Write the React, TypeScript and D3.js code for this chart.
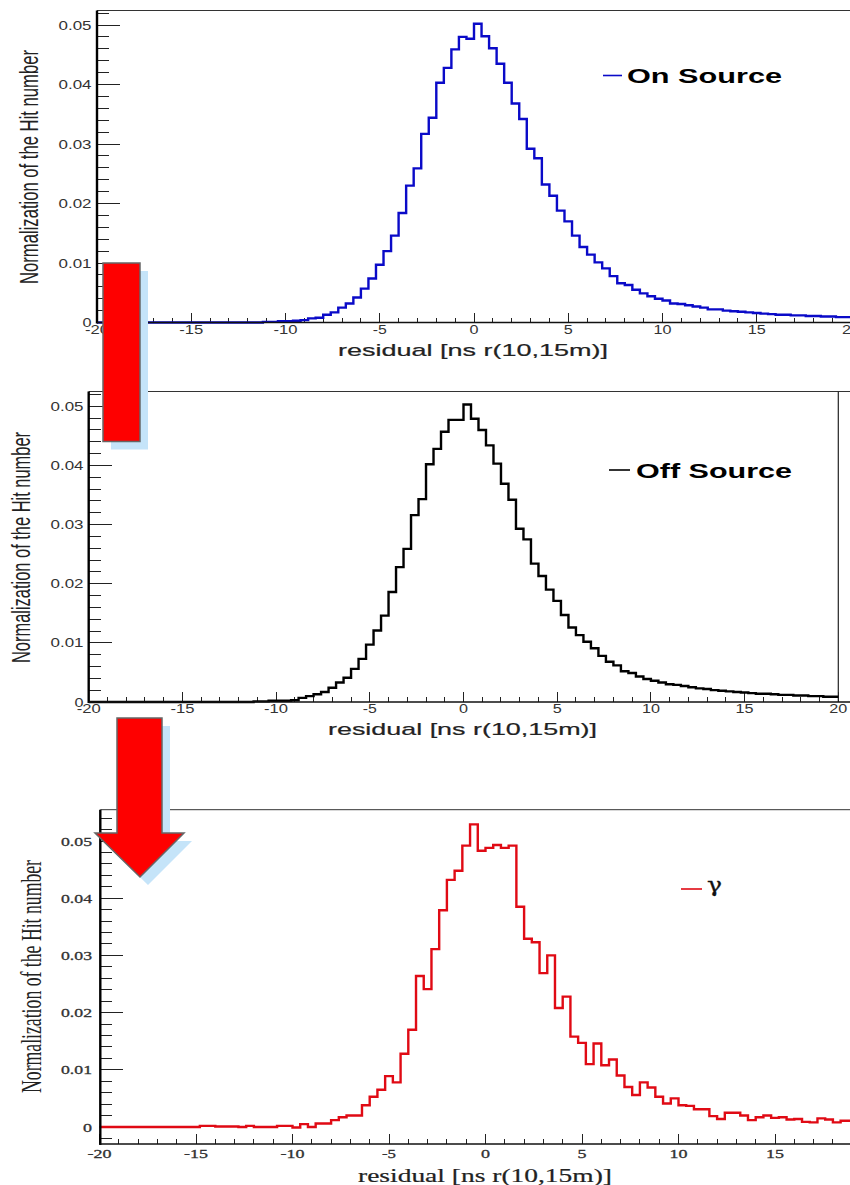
import React from "react";
import * as d3 from "d3";

const binEdges = d3.range(0, 100).map((i) => -20 + i * 0.4);
const binWidth = 0.4;

const onSource = [
  0, 0, 0, 0, 0, 0, 0, 0, 0, 0,
  0, 0, 0, 0, 0, 0, 0, 0, 0, 0,
  0, 0, 0.0001, 0.0001, 0.0002, 0.0002, 0.0003, 0.0004, 0.0007, 0.0008,
  0.0013, 0.0017, 0.0025, 0.0032, 0.0042, 0.0057, 0.0074, 0.0097, 0.012, 0.0146,
  0.0184, 0.023, 0.0259, 0.0317, 0.0344, 0.0403, 0.0428, 0.0459, 0.048, 0.0477,
  0.0502, 0.0481, 0.0461, 0.0435, 0.0403, 0.0368, 0.0342, 0.0292, 0.0276, 0.0232,
  0.0213, 0.0188, 0.017, 0.0146, 0.0127, 0.0114, 0.0101, 0.0091, 0.0078, 0.0066,
  0.0063, 0.0055, 0.0049, 0.0044, 0.004, 0.0037, 0.0032, 0.0031, 0.0029, 0.0027,
  0.0025, 0.0022, 0.0022, 0.002, 0.0019, 0.0018, 0.0017, 0.0016, 0.0015, 0.0014,
  0.0013, 0.0013, 0.0012, 0.0012, 0.0011, 0.0011, 0.001, 0.001, 0.0009, 0.0009,
];

const offSource = [
  0, 0, 0, 0, 0, 0, 0, 0, 0, 0,
  0, 0, 0, 0, 0, 0, 0, 0, 0, 0,
  0, 0, 0.0001, 0.0001, 0.0002, 0.0002, 0.0002, 0.0003, 0.0007, 0.001,
  0.0013, 0.0017, 0.0024, 0.0033, 0.0041, 0.0056, 0.0073, 0.0097, 0.0121, 0.0146,
  0.0186, 0.0228, 0.0259, 0.0316, 0.0343, 0.0402, 0.0428, 0.0457, 0.0477, 0.0477,
  0.0503, 0.0479, 0.046, 0.0434, 0.0403, 0.0369, 0.0342, 0.0293, 0.0275, 0.0234,
  0.0213, 0.019, 0.0171, 0.0147, 0.0126, 0.0113, 0.0102, 0.0091, 0.0078, 0.0068,
  0.0062, 0.0052, 0.0049, 0.0043, 0.0039, 0.0036, 0.0033, 0.003, 0.0029, 0.0027,
  0.0025, 0.0023, 0.0022, 0.002, 0.0019, 0.0018, 0.0017, 0.0016, 0.0015, 0.0014,
  0.0014, 0.0013, 0.0012, 0.0012, 0.0011, 0.0011, 0.001, 0.001, 0.0009, 0.0009,
];

const gammaRay = [
  0, 0, 0, 0, 0, 0, 0, 0, 0, 0,
  0, 0, 0, 0.0002, 0.0002, 0.0001, 0.0001, 0.0001, 0, 0.0002,
  0, 0, 0, 0.0002, 0.0002, -0.0001, 0.0005, 0, 0.0006, 0.0006,
  0.0012, 0.0017, 0.002, 0.002, 0.0038, 0.0053, 0.0065, 0.0089, 0.0078, 0.0128,
  0.017, 0.0264, 0.0241, 0.0311, 0.0379, 0.0432, 0.0448, 0.0492, 0.0529, 0.0483,
  0.0488, 0.0493, 0.0488, 0.0492, 0.0385, 0.0329, 0.0323, 0.0269, 0.03, 0.0208,
  0.0228, 0.0158, 0.0147, 0.011, 0.0146, 0.0108, 0.0118, 0.009, 0.007, 0.0056,
  0.0078, 0.0069, 0.0053, 0.0041, 0.005, 0.0038, 0.0037, 0.0031, 0.0031, 0.0019,
  0.0014, 0.0025, 0.0025, 0.002, 0.0012, 0.0017, 0.002, 0.0016, 0.0017, 0.0013,
  0.0014, 0.0009, 0.0008, 0.0015, 0.0013, 0.0008, 0.0011, 0.0011, 0.001, 0.0009,
];

const xMajorTicks = [-20, -15, -10, -5, 0, 5, 10, 15, 20];
const xMinorTicks = d3.range(-20, 21).filter((v) => v % 5 !== 0);
const yMajorTicks = [0, 0.01, 0.02, 0.03, 0.04, 0.05];
const yMinorTicks = d3.range(0, 28).map((i) => i * 0.002).filter((_, i) => i % 5 !== 0);
const xTitle = "residual [ns r(10,15m)]";
const yTitle = "Normalization of the Hit number";

const SANS = "'Liberation Sans', Arial, sans-serif";
const SERIF = "'Liberation Serif', 'Times New Roman', serif";

type PanelProps = {
  values: number[];
  color: string;
  left: number; right: number; top: number; bottom: number;
  x0: number; x20: number; y0: number; y05: number;
  font: string;
  showRight?: boolean;
  yLabelRight: number;
  yLabelWidth: number;
  yTitleX: number; yTitleTop: number; yTitleLen: number;
  xTitleLeft: number; xTitleBase: number; xTitleLen: number;
  xLabelBase: number;
  xTitleSize: number;
  yTitleSize: number;
  lowMinor?: boolean;
};

function Panel(p: PanelProps) {
  const x = d3.scaleLinear().domain([-20, 20]).range([p.x0, p.x20]);
  const y = d3.scaleLinear().domain([0, 0.05]).range([p.y0, p.y05]);
  const pts: [number, number][] = binEdges.map((e, i) => [e, p.values[i]]);
  pts.push([binEdges[99] + binWidth, p.values[99]]);
  const line = d3.line<[number, number]>()
    .x((d) => x(d[0]))
    .y((d) => y(d[1]))
    .curve(d3.curveStepAfter);
  const labelWidth = (v: number) => {
    const s = Math.abs(v) >= 10 ? 18 : 9;
    return v < 0 ? s + (Math.abs(v) >= 10 ? 6 : 5) : s;
  };
  const isSerif = p.font === SERIF;
  const tickProps = { stroke: "#222", strokeWidth: 1, shapeRendering: "crispEdges" as const };
  const minors = yMinorTicks.filter((v) => y(v) > p.top + 1);
  return (
    <g>
      <line x1={p.left} x2={850} y1={p.top} y2={p.top} stroke="#333" strokeWidth={1} />
      {p.showRight && <line x1={p.right} x2={p.right} y1={p.top} y2={p.bottom} stroke="#222" strokeWidth={1.2} />}
      {minors.map((v) => (
        <line key={v} x1={p.left} x2={p.left + 12} y1={y(v)} y2={y(v)} {...tickProps} />
      ))}
      {p.lowMinor && (
        <line x1={p.left} x2={p.left + 12} y1={y(-0.002)} y2={y(-0.002)} {...tickProps} />
      )}
      {yMajorTicks.map((v) => (
        <line key={v} x1={p.left} x2={p.left + 23} y1={y(v)} y2={y(v)} {...tickProps} />
      ))}
      {xMinorTicks.map((v) => (
        <line key={v} x1={x(v)} x2={x(v)} y1={p.bottom} y2={p.bottom - 5} {...tickProps} />
      ))}
      {xMajorTicks.map((v) => (
        <line key={v} x1={x(v)} x2={x(v)} y1={p.bottom} y2={p.bottom - 10} {...tickProps} />
      ))}
      <path d={line(pts) ?? ""} fill="none" stroke={p.color} strokeWidth={2.4} />
      <line x1={p.left} x2={p.left} y1={p.top} y2={p.bottom + 1} stroke="#000" strokeWidth={2.4} />
      <line x1={p.left} x2={850} y1={p.bottom} y2={p.bottom} stroke="#111" strokeWidth={1.6} />
      {yMajorTicks.map((v) => {
        const w = v === 0 ? 9 : p.yLabelWidth;
        return (
          <text key={v} x={p.yLabelRight - w} y={y(v) + 4.5} fontFamily={p.font} fontSize={12.5}
            fill="#333" stroke={isSerif ? "#333" : "none"} strokeWidth={0.3}
            textLength={w} lengthAdjust="spacingAndGlyphs">
            {v === 0 ? "0" : d3.format(".2f")(v)}
          </text>
        );
      })}
      {xMajorTicks.map((v) => {
        const w = labelWidth(v);
        return (
          <text key={v} x={x(v) - w / 2} y={p.xLabelBase} fontFamily={p.font} fontSize={12}
            fill="#333" stroke={isSerif ? "#333" : "none"} strokeWidth={0.3}
            textLength={w} lengthAdjust="spacingAndGlyphs">
            {String(v)}
          </text>
        );
      })}
      <text x={p.xTitleLeft} y={p.xTitleBase} fontFamily={p.font} fontSize={p.xTitleSize} fill="#222"
        textLength={p.xTitleLen} lengthAdjust="spacingAndGlyphs" stroke="#222" strokeWidth={0.2}>
        {xTitle}
      </text>
      <text transform={`translate(${p.yTitleX},${p.yTitleTop + p.yTitleLen}) rotate(-90)`} fontFamily={p.font}
        fontSize={p.yTitleSize} fill="#222" textLength={p.yTitleLen} lengthAdjust="spacingAndGlyphs">
        {yTitle}
      </text>
    </g>
  );
}

function Legend({ x1, x2, y, color, label, labelX, labelLen, base }: {
  x1: number; x2: number; y: number; color: string; label: string; labelX: number; labelLen: number; base: number;
}) {
  return (
    <g>
      <line x1={x1} x2={x2} y1={y} y2={y} stroke={color} strokeWidth={1.6} />
      <text x={labelX} y={base} fontFamily={SANS} fontWeight={700} fontSize={20} fill="#000"
        textLength={labelLen} lengthAdjust="spacingAndGlyphs">
        {label}
      </text>
    </g>
  );
}

function polygon(points: [number, number][]) {
  return d3.line<[number, number]>()(points)! + "Z";
}

const arrowA: [number, number][] = [[103, 263], [140, 263], [140, 441.5], [103, 441.5]];
const arrowB: [number, number][] = [
  [117, 718], [162, 718], [162, 833], [184, 833], [140, 877], [95, 833], [117, 833],
];
const shadowOffset = 8;

export default function App() {
  return (
    <svg width={850} height={1185} viewBox="0 0 850 1185"
      style={{ position: "absolute", left: 0, top: 0, background: "#fff", display: "block" }}>
      <Panel values={onSource} color="#0a0ac8" left={97} right={851} top={10.5} bottom={322.5}
        x0={97} x20={851} y0={322.5} y05={25} font={SANS}
        yLabelRight={91.5} yLabelWidth={33}
        yTitleX={38} yTitleTop={50} yTitleLen={234} yTitleSize={26}
        xTitleLeft={338} xTitleBase={356} xTitleLen={270} xTitleSize={17} xLabelBase={334} />
      <Panel values={offSource} color="#000" left={88.7} right={838.3} top={391.5} bottom={702}
        x0={88.7} x20={838.3} y0={702} y05={406.3} font={SANS} showRight
        yLabelRight={83.5} yLabelWidth={33}
        yTitleX={30} yTitleTop={432} yTitleLen={231} yTitleSize={26}
        xTitleLeft={328} xTitleBase={735} xTitleLen={269} xTitleSize={17} xLabelBase={713} />
      <Panel values={gammaRay} color="#e00a14" left={100.3} right={871} top={809.7} bottom={1144}
        x0={99.5} x20={871.5} y0={1127} y05={841} font={SERIF} lowMinor
        yLabelRight={92} yLabelWidth={31}
        yTitleX={40.5} yTitleTop={860} yTitleLen={233} yTitleSize={29}
        xTitleLeft={358} xTitleBase={1182} xTitleLen={254} xTitleSize={19} xLabelBase={1158} />

      <Legend x1={603} x2={622} y={75.5} color="#0a0ac8" label="On Source" labelX={627} labelLen={155} base={83} />
      <Legend x1={609} x2={630} y={470} color="#000" label="Off Source" labelX={636} labelLen={156} base={478} />
      <line x1={681} x2={702} y1={889} y2={889} stroke="#e00a14" strokeWidth={1.6} />
      <text x={707} y={892} fontFamily="'DejaVu Serif', serif" fontSize={20} fill="#111" stroke="#111" strokeWidth={0.3}
        textLength={15} lengthAdjust="spacingAndGlyphs">γ</text>

      <g fill="#c5e4f9" transform={`translate(${shadowOffset},${shadowOffset})`}>
        <path d={polygon(arrowA)} />
        <path d={polygon(arrowB)} />
      </g>
      <g fill="#fe0000" stroke="#666" strokeWidth={1.5}>
        <path d={polygon(arrowA)} />
        <path d={polygon(arrowB)} />
      </g>
    </svg>
  );
}
